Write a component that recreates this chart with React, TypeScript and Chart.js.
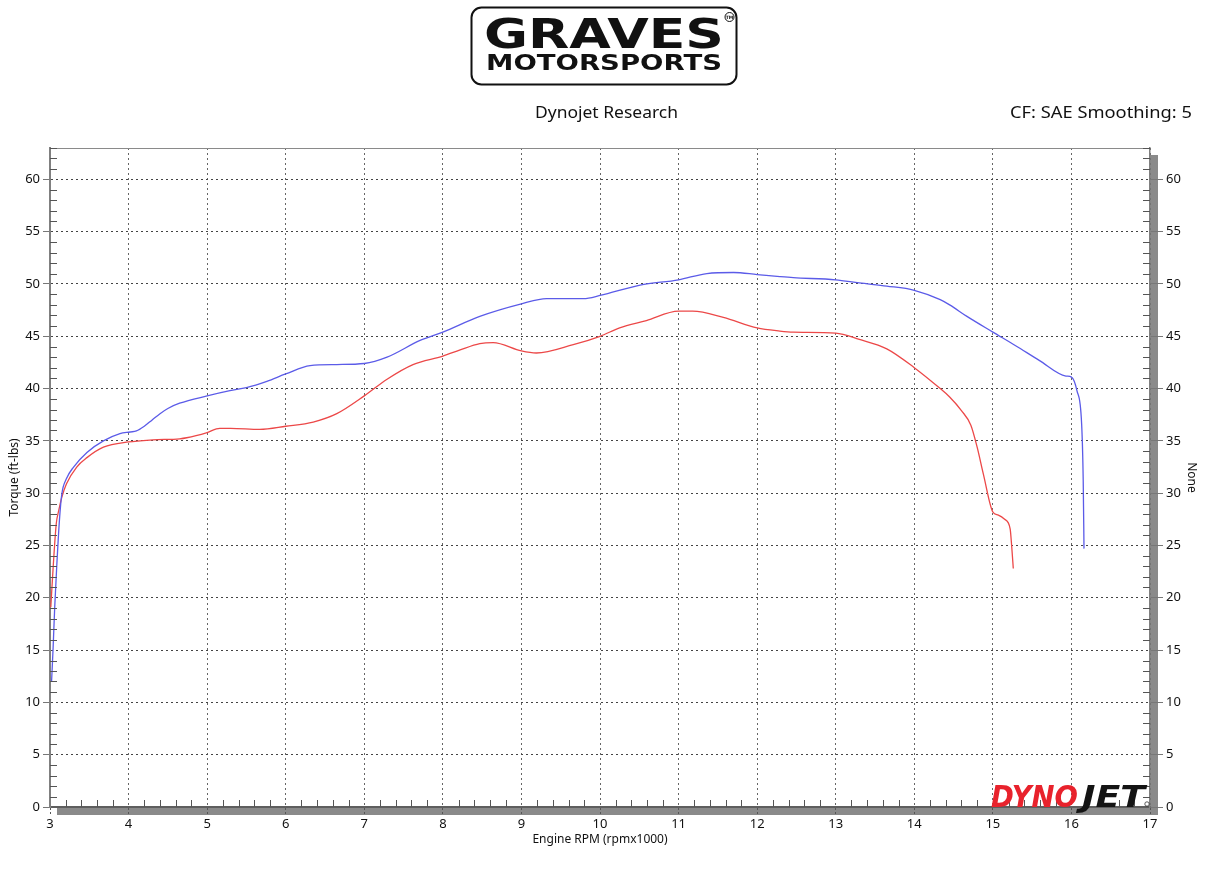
import React, { useEffect, useRef } from "react";
import { Chart, registerables } from "chart.js";

Chart.register(...registerables);

// ---- Data ----
const blueRpm = [
  3.02, 3.04, 3.06, 3.085, 3.12, 3.15, 3.21, 3.3, 3.47, 3.68, 3.89, 4.02, 4.1, 4.2, 4.3, 4.4, 4.5, 4.65,
  5.0, 5.29, 5.5, 5.76, 6.0, 6.31, 6.65, 7.0, 7.29, 7.71, 8.0, 8.47, 9.0, 9.32, 9.79, 10.0,
  10.51, 11.0, 11.36, 11.7, 12.0, 12.29, 12.46, 13.0, 13.3, 13.65, 14.0, 14.33, 14.45, 14.67,
  15.0, 15.29, 15.59, 15.93, 16.0, 16.07, 16.13, 16.15, 16.16,
];
const blueTorque = [
  12.0, 15.3, 19.1, 22.9, 27.4, 29.9, 31.4, 32.5, 33.9, 35.0, 35.7, 35.85, 35.95, 36.4, 37.0, 37.6, 38.1, 38.6,
  39.3, 39.8, 40.1, 40.7, 41.4, 42.2, 42.3, 42.4, 43.0, 44.6, 45.4, 46.9, 48.1, 48.6, 48.6, 48.9,
  49.9, 50.4, 51.0, 51.1, 50.9, 50.7, 50.6, 50.4, 50.1, 49.8, 49.4, 48.5, 48.0, 46.9,
  45.4, 44.1, 42.7, 41.2, 41.1, 39.8, 36.6, 31.2, 24.7,
];
const redRpm = [
  3.01, 3.04, 3.08, 3.11, 3.15, 3.21, 3.34, 3.47, 3.68, 4.0, 4.31, 4.65, 4.74, 5.0, 5.16, 5.3,
  5.67, 6.0, 6.35, 6.65, 7.0, 7.29, 7.62, 8.0, 8.22, 8.47, 8.64, 9.0, 9.19, 9.66, 10.0, 10.25,
  10.59, 11.0, 11.18, 11.57, 12.0, 12.29, 12.46, 13.0, 13.3, 13.65, 14.0, 14.33, 14.45, 14.6,
  14.72, 14.8, 14.88, 15.0, 15.07, 15.15, 15.22, 15.24, 15.26,
];
const redTorque = [
  19.1, 22.9, 27.1, 28.3, 29.6, 30.9, 32.5, 33.4, 34.4, 34.9, 35.1, 35.2, 35.3, 35.8, 36.2, 36.2,
  36.1, 36.4, 36.8, 37.6, 39.3, 40.9, 42.3, 43.1, 43.7, 44.3, 44.4, 43.6, 43.4, 44.2, 45.0, 45.8,
  46.5, 47.4, 47.4, 46.8, 45.8, 45.5, 45.4, 45.3, 44.7, 43.8, 42.0, 40.0, 39.2, 37.9,
  36.5, 34.4, 31.8, 28.2, 27.9, 27.5, 26.6, 24.9, 22.8,
];

const rpmMin = 3;
const rpmMax = 17;
const torqueMin = 0;
const torqueMax = 63;
const majorTorqueStep = 5;
const minorTorqueStep = 1;
const minorRpmStep = 0.2;

const headerLeft = "Dynojet Research";
const headerRight = "CF: SAE Smoothing: 5";
const xTitle = "Engine RPM (rpmx1000)";
const yTitle = "Torque (ft-lbs)";
const y2Title = "None";

const FONT = "'Noto Sans', 'DejaVu Sans', sans-serif";

const framePlugin = {
  id: "dynoFrame",
  beforeDraw(chart: any) {
    const { ctx, chartArea } = chart;
    const { left, right, top, bottom } = chartArea;
    ctx.save();
    ctx.fillStyle = "#8a8a8a";
    ctx.fillRect(right, top + 7, 8, bottom - top - 7 + 8);
    ctx.fillRect(left + 7, bottom, right - left - 7 + 8, 8);
    ctx.restore();
  },
  afterDatasetsDraw(chart: any) {
    const { ctx, chartArea, scales } = chart;
    const { left, right, top, bottom } = chartArea;
    ctx.save();
    ctx.strokeStyle = "#8a8a8a";
    ctx.lineWidth = 1;
    ctx.beginPath();
    ctx.moveTo(left, top + 0.5);
    ctx.lineTo(right, top + 0.5);
    ctx.stroke();
    ctx.strokeStyle = "#555";
    ctx.beginPath();
    const ys = scales.y;
    for (let v = torqueMin; v <= torqueMax; v += minorTorqueStep) {
      if (v % majorTorqueStep === 0) continue;
      const py = Math.round(ys.getPixelForValue(v)) + 0.5;
      ctx.moveTo(left, py);
      ctx.lineTo(left + 7, py);
      ctx.moveTo(right - 7, py);
      ctx.lineTo(right, py);
    }
    const xs = scales.x;
    const n = Math.round((rpmMax - rpmMin) / minorRpmStep);
    for (let i = 0; i <= n; i++) {
      if (i % 5 === 0) continue;
      const px = Math.round(xs.getPixelForValue(rpmMin + i * minorRpmStep)) + 0.5;
      ctx.moveTo(px, bottom);
      ctx.lineTo(px, bottom - 7);
    }
    ctx.stroke();
    ctx.restore();
  },
};

export default function App() {
  const canvasRef = useRef<HTMLCanvasElement | null>(null);

  useEffect(() => {
    const canvas = canvasRef.current;
    if (!canvas) return;
    const tickFont = { family: FONT, size: 13 };
    const titleFont = { family: FONT, size: 12 };
    const chart = new Chart(canvas, {
      type: "line",
      data: {
        datasets: [
          {
            label: "Run 1",
            data: blueRpm.map((x, i) => ({ x, y: blueTorque[i] })),
            borderColor: "#5b5be8",
            borderWidth: 1.3,
            pointRadius: 0,
            cubicInterpolationMode: "monotone",
            yAxisID: "y",
          },
          {
            label: "Run 2",
            data: redRpm.map((x, i) => ({ x, y: redTorque[i] })),
            borderColor: "#ec4848",
            borderWidth: 1.3,
            pointRadius: 0,
            cubicInterpolationMode: "monotone",
            yAxisID: "y",
          },
        ],
      },
      options: {
        responsive: false,
        animation: false,
        layout: { padding: { top: 148, left: 0, right: 0, bottom: 0 } },
        plugins: {
          legend: { display: false },
          tooltip: { enabled: false },
        },
        scales: {
          x: {
            type: "linear",
            min: rpmMin,
            max: rpmMax,
            afterFit: (s: any) => {
              s.height = 64;
            },
            ticks: {
              stepSize: 1,
              color: "#111",
              font: tickFont,
              padding: 1,
              maxRotation: 0,
              autoSkip: false,
            },
            grid: {
              color: "#666",
              lineWidth: 1,
              tickLength: 8,
              tickColor: "#555",
              tickBorderDash: [2, 2],
            },
            border: { display: true, color: "#5e5e5e", width: 2, dash: [2, 3] },
            title: {
              display: true,
              text: xTitle,
              color: "#111",
              font: titleFont,
              padding: { top: 0, bottom: 24 },
            },
          },
          y: {
            type: "linear",
            position: "left",
            min: torqueMin,
            max: torqueMax,
            afterFit: (s: any) => {
              s.width = 50;
            },
            afterBuildTicks: (s: any) => {
              s.ticks = s.ticks.filter((t: any) => t.value % majorTorqueStep === 0);
            },
            ticks: { stepSize: majorTorqueStep, color: "#111", font: tickFont, padding: 3 },
            grid: { color: "#444", lineWidth: 1, tickLength: 7, tickColor: "#777" },
            border: { display: true, color: "#808080", width: 2, dash: [2, 3] },
            title: {
              display: true,
              text: yTitle,
              color: "#111",
              font: titleFont,
              padding: { top: 7, bottom: 0 },
            },
          },
          y2: {
            type: "linear",
            position: "right",
            min: torqueMin,
            max: torqueMax,
            afterFit: (s: any) => {
              s.width = 64;
            },
            afterBuildTicks: (s: any) => {
              s.ticks = s.ticks.filter((t: any) => t.value % majorTorqueStep === 0);
            },
            ticks: { stepSize: majorTorqueStep, color: "#111", font: tickFont, padding: 3 },
            grid: { drawOnChartArea: false, tickLength: 13, tickColor: "#777" },
            border: { display: true, color: "#808080", width: 1.5 },
            title: {
              display: true,
              text: y2Title,
              color: "#111",
              font: titleFont,
              padding: { top: 15, bottom: 0 },
            },
          },
        },
      } as any,
      plugins: [framePlugin],
    });
    return () => chart.destroy();
  }, []);

  return (
    <div style={{ position: "absolute", left: 0, top: 0, width: 1214, height: 871, background: "#fff" }}>
      <canvas ref={canvasRef} width={1214} height={871} style={{ position: "absolute", left: 0, top: 0 }} />
      <svg
        width={1214}
        height={871}
        style={{ position: "absolute", left: 0, top: 0, pointerEvents: "none" }}
      >
        <rect x={471.5} y={7.5} width={265} height={77} rx={10} fill="#fff" stroke="#111" strokeWidth={2} />
        <text
          x={484}
          y={48}
          textLength={240}
          lengthAdjust="spacingAndGlyphs"
          fontFamily="'DejaVu Sans', sans-serif"
          fontWeight={900}
          fontSize={41}
          fill="#111"
        >
          GRAVES
        </text>
        <text
          x={486}
          y={70}
          textLength={236}
          lengthAdjust="spacingAndGlyphs"
          fontFamily="'DejaVu Sans', sans-serif"
          fontWeight={900}
          fontSize={21}
          fill="#111"
        >
          MOTORSPORTS
        </text>
        <circle cx={729.5} cy={17} r={4.5} fill="none" stroke="#111" strokeWidth={1} />
        <text x={729.5} y={19} textAnchor="middle" fontFamily="'DejaVu Sans', sans-serif" fontSize={4.5} fontWeight={700} fill="#111">
          TM
        </text>
        <text
          x={535}
          y={118}
          textLength={143}
          lengthAdjust="spacingAndGlyphs"
          fontFamily={FONT}
          fontSize={17}
          fill="#111"
        >
          {headerLeft}
        </text>
        <text
          x={1010}
          y={118}
          textLength={182}
          lengthAdjust="spacingAndGlyphs"
          fontFamily={FONT}
          fontSize={17}
          fill="#111"
        >
          {headerRight}
        </text>
        <text
          x={991}
          y={807}
          textLength={87}
          lengthAdjust="spacingAndGlyphs"
          fontFamily="'DejaVu Sans', sans-serif"
          fontStyle="italic"
          fontWeight={900}
          fontSize={31}
          fill="#e8222c"
        >
          DYNO
        </text>
        <text
          x={1082}
          y={807}
          textLength={63}
          lengthAdjust="spacingAndGlyphs"
          fontFamily="'DejaVu Sans', sans-serif"
          fontStyle="italic"
          fontWeight={900}
          fontSize={31}
          fill="#141414"
        >
          JET
        </text>
        <circle cx={1147} cy={804} r={2.2} fill="none" stroke="#333" strokeWidth={0.8} />
      </svg>
    </div>
  );
}
